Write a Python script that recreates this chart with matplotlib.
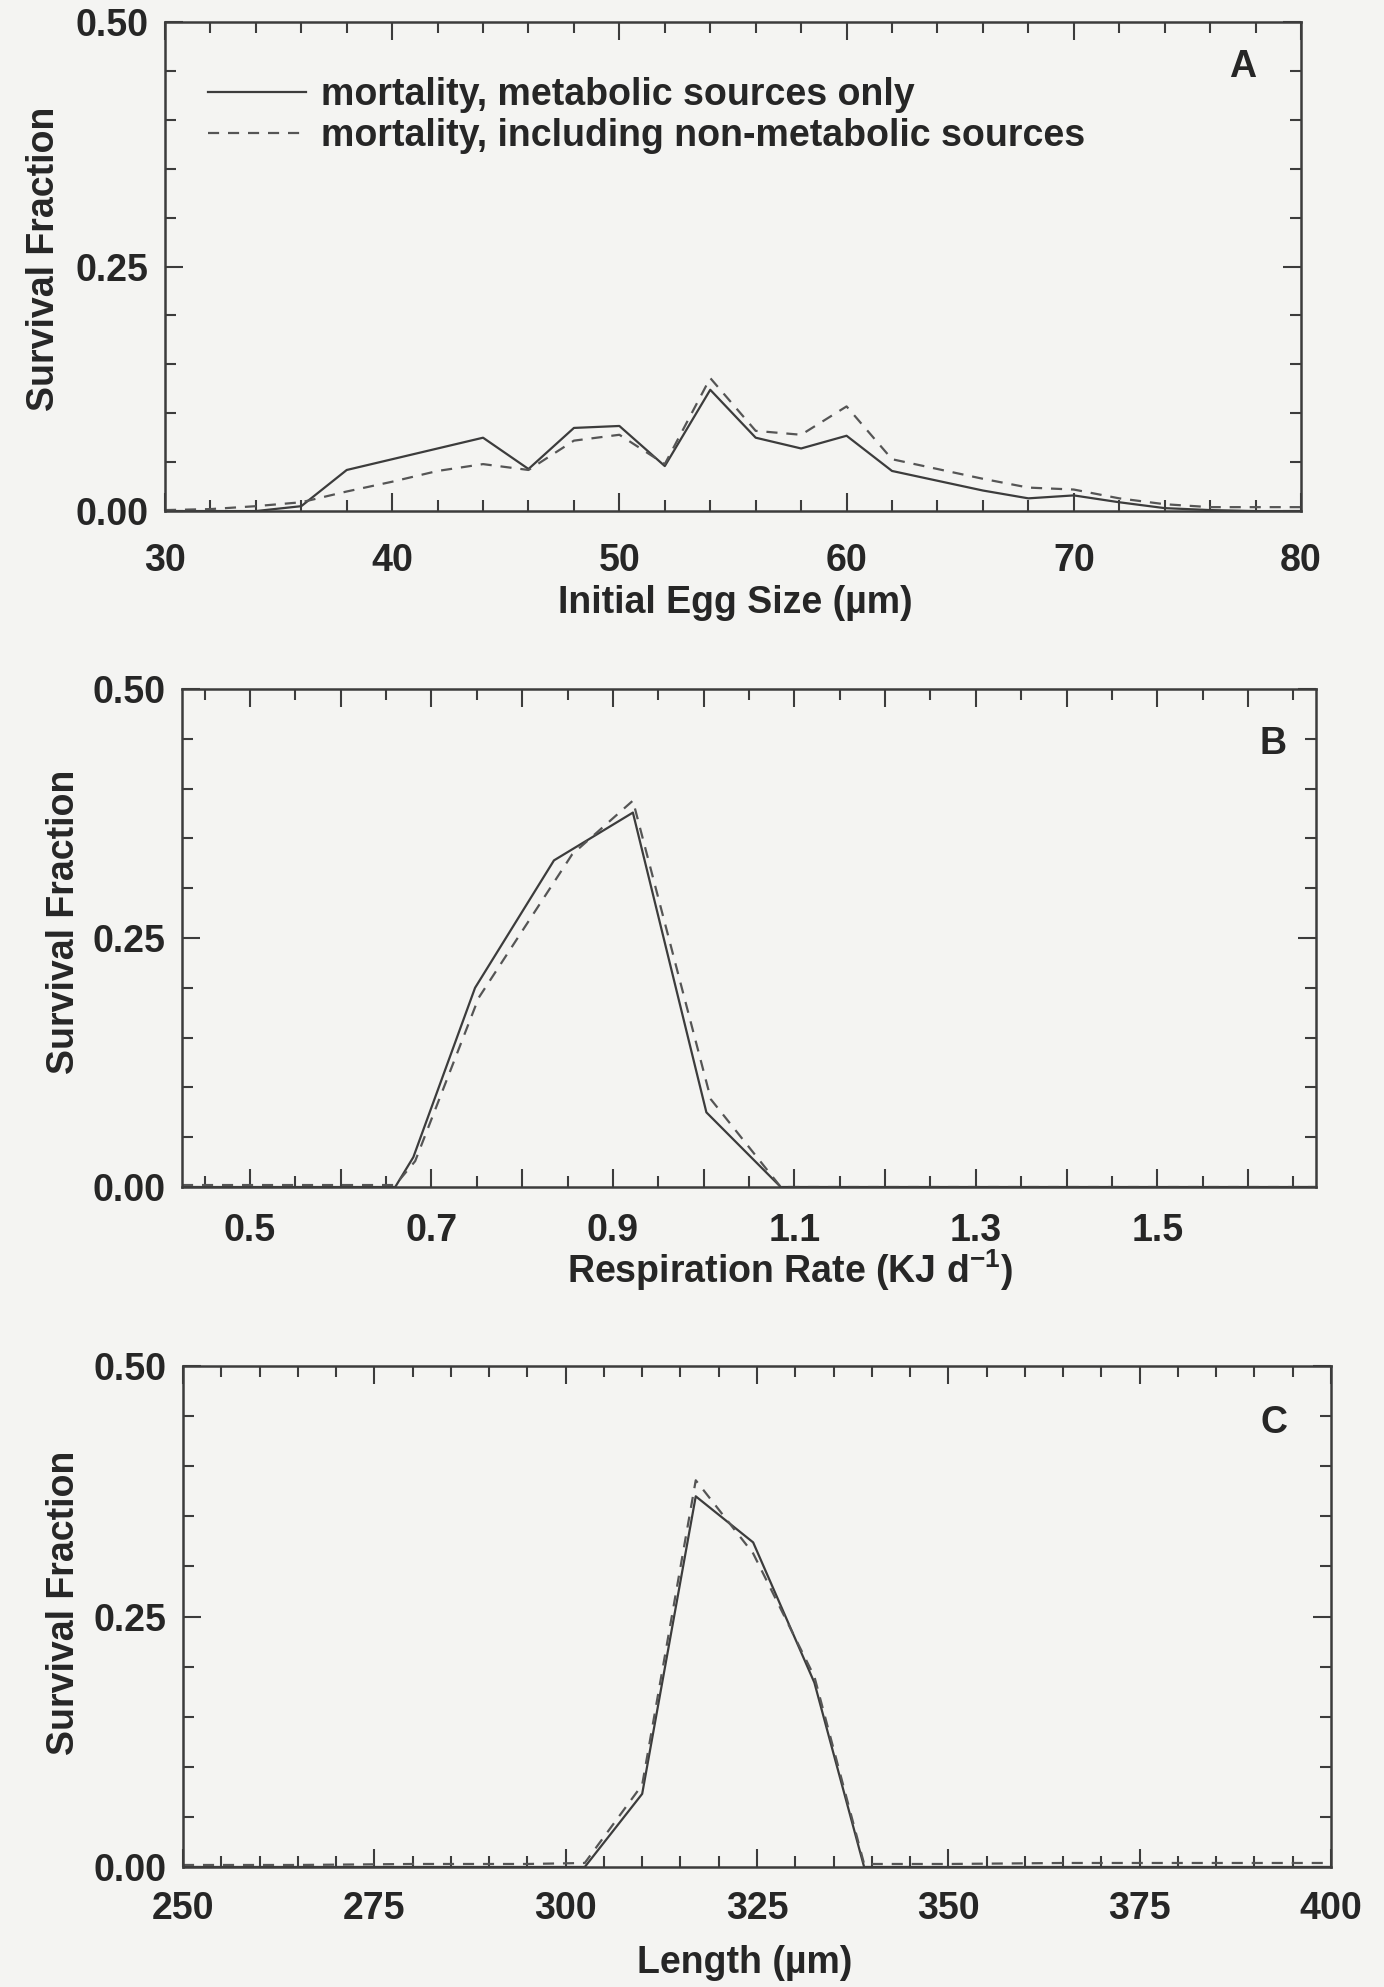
import matplotlib
matplotlib.use("Agg")
import matplotlib.pyplot as plt
from matplotlib.ticker import MultipleLocator, FuncFormatter, FormatStrFormatter

plt.rcParams['font.family'] = ['Liberation Sans', 'DejaVu Sans']
plt.rcParams['font.weight'] = 'bold'
plt.rcParams['axes.labelweight'] = 'bold'
plt.rcParams['mathtext.fontset'] = 'custom'
plt.rcParams['mathtext.rm'] = 'Liberation Sans:bold'
plt.rcParams['mathtext.it'] = 'Liberation Sans:bold'
plt.rcParams['mathtext.bf'] = 'Liberation Sans:bold'

# --- data ---
series_labels = ['mortality, metabolic sources only',
                 'mortality, including non-metabolic sources']

# A: initial egg size (um)
egg_size = [30, 32, 34, 36, 38, 40, 42, 44, 46, 48, 50, 52, 54,
            56, 58, 60, 62, 64, 66, 68, 70, 72, 74, 76, 78, 80]
egg_metab = [0, 0, 0, 0.005, 0.042, 0.053, 0.064, 0.075, 0.043, 0.085, 0.087, 0.046, 0.124,
             0.075, 0.064, 0.077, 0.041, 0.031, 0.021, 0.013, 0.016, 0.009, 0.003, 0.001, 0, 0]
egg_all = [0.001, 0.002, 0.005, 0.009, 0.020, 0.030, 0.041, 0.048, 0.042, 0.072, 0.078, 0.048, 0.136,
           0.082, 0.078, 0.107, 0.053, 0.043, 0.033, 0.024, 0.022, 0.013, 0.007, 0.004, 0.004, 0.004]

# B: respiration rate (KJ d-1)
resp_metab_x = [0.425, 0.49, 0.575, 0.66, 0.68, 0.748, 0.835, 0.922, 1.003, 1.085, 1.675]
resp_metab = [0, 0, 0, 0, 0.03, 0.20, 0.328, 0.376, 0.075, 0, 0]
resp_all_x = [0.425, 0.50, 0.58, 0.66, 0.682, 0.752, 0.855, 0.922, 1.008, 1.085, 1.675]
resp_all = [0.002, 0.002, 0.002, 0.002, 0.026, 0.19, 0.334, 0.388, 0.088, 0, 0]

# C: length (um)
length = [250, 265, 280, 295, 302.5, 310, 317, 324.5, 332.5, 339, 350, 365, 380, 400]
len_metab = [0, 0, 0, 0, 0, 0.073, 0.370, 0.324, 0.184, 0, 0, 0, 0, 0]
len_all = [0.002, 0.002, 0.003, 0.003, 0.004, 0.082, 0.386, 0.313, 0.19, 0.003, 0.003, 0.004, 0.004, 0.004]

bg = '#f4f4f2'
ink = '#3c3c3c'
txt = '#262626'
fs = 27

fig = plt.figure(figsize=(13.84, 19.87), dpi=100, facecolor=bg)


def style_axis(ax, xlim, xmajor, xminor, xfmt, xpad, letter, letter_xy):
    ax.set_facecolor(bg)
    ax.set_xlim(*xlim)
    ax.set_ylim(0, 0.5)
    ax.xaxis.set_major_locator(MultipleLocator(xmajor))
    ax.xaxis.set_minor_locator(MultipleLocator(xminor))
    ax.xaxis.set_major_formatter(xfmt)
    ax.yaxis.set_major_locator(MultipleLocator(0.25))
    ax.yaxis.set_minor_locator(MultipleLocator(0.05))
    ax.yaxis.set_major_formatter(FormatStrFormatter('%.2f'))
    ax.tick_params(which='both', direction='in', top=True, right=True,
                   color=ink, width=1.5, labelsize=fs, labelcolor=txt)
    ax.tick_params(which='major', length=13)
    ax.tick_params(which='minor', length=8)
    ax.tick_params(axis='x', pad=xpad)
    ax.tick_params(axis='y', pad=12)
    for s in ax.spines.values():
        s.set_linewidth(1.8)
        s.set_color(ink)
    ax.text(letter_xy[0], letter_xy[1], letter, transform=ax.transAxes,
            fontsize=fs, ha='center', va='center', color=txt)
    ax.set_ylabel('Survival Fraction', fontsize=fs, color=txt)


line_kw = dict(color=ink, lw=1.6)
dash_kw = dict(color='#555555', lw=1.6, linestyle=(0, (5, 4)))

# panel A
axA = fig.add_axes([0.1192, 0.7428, 0.8208, 0.2461])
axA.plot(egg_size, egg_metab, label=series_labels[0], **line_kw)
axA.plot(egg_size, egg_all, label=series_labels[1], **dash_kw)
style_axis(axA, (30, 80), 10, 2, FormatStrFormatter('%d'), 23, 'A', (0.949, 0.908))
axA.set_xlabel('Initial Egg Size (µm)', fontsize=fs, color=txt)
axA.xaxis.set_label_coords(0.502, -0.151)
axA.yaxis.set_label_coords(-0.091, 0.515)
axA.legend(loc='upper left', bbox_to_anchor=(0.038, 0.888), frameon=False,
           fontsize=fs, handlelength=2.6, handletextpad=0.4, labelspacing=0.13,
           borderpad=0, borderaxespad=0, labelcolor=txt)

# panel B
axB = fig.add_axes([0.1315, 0.4026, 0.8194, 0.2506])
axB.plot(resp_metab_x, resp_metab, **line_kw)
axB.plot(resp_all_x, resp_all, **dash_kw)
odd_tenths = FuncFormatter(lambda v, p: f'{v:.1f}' if round(v * 10) % 2 == 1 else '')
style_axis(axB, (0.425, 1.675), 0.1, 0.05, odd_tenths, 19, 'B', (0.962, 0.890))
axB.set_xlabel('Respiration Rate (KJ d$^{-1}$)', fontsize=fs, color=txt)
axB.xaxis.set_label_coords(0.536, -0.122)
axB.yaxis.set_label_coords(-0.088, 0.532)

# panel C
axC = fig.add_axes([0.1322, 0.0604, 0.8295, 0.2521])
axC.plot(length, len_metab, **line_kw)
axC.plot(length, len_all, **dash_kw)
style_axis(axC, (250, 400), 25, 5, FormatStrFormatter('%d'), 17, 'C', (0.950, 0.887))
axC.set_xlabel('Length (µm)', fontsize=fs, color=txt)
axC.xaxis.set_label_coords(0.489, -0.156)
axC.yaxis.set_label_coords(-0.088, 0.527)

fig.savefig('out.png', dpi=100, facecolor=bg)
